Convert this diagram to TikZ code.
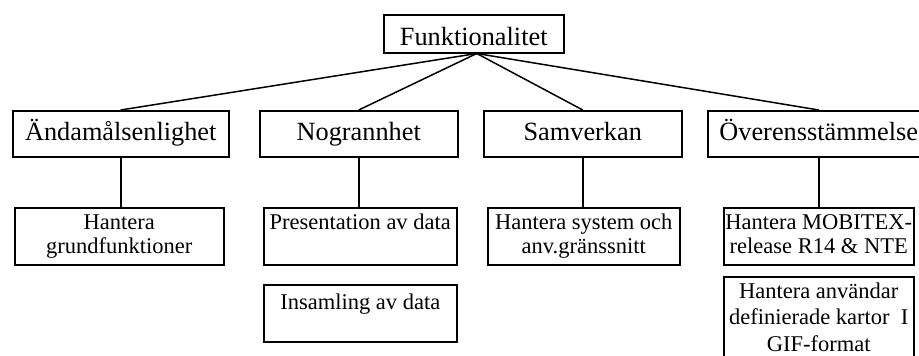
\documentclass[tikz,border=0pt]{standalone}
\usepackage{fontspec}
\setmainfont{Liberation Serif}
% #1 width, #2 height, #3 first baseline below top edge, #4 text
\newcommand\boxlines[4]{\parbox[t][#2][t]{#1}{\centering\rule{0pt}{#3}#4}}
\tikzset{
  box/.style={draw, line width=1.5pt, inner sep=0pt, anchor=north west},
  link/.style={line width=1.5pt},
  headfont/.style={font=\fontsize{26.3}{28}\selectfont},
  leaffont/.style={font=\fontsize{22.5}{24}\selectfont},
  tallfont/.style={font=\fontsize{22.5}{26.5}\selectfont},
}
\begin{document}
\begin{tikzpicture}[x=1pt, y=-1pt]
\useasboundingbox (0,0) rectangle (919,356);
\clip (0,0) rectangle (919,356);

% root
\node[box, headfont] (root) at (383,14) {\boxlines{180pt}{38pt}{30.5pt}{Funktionalitet}};

% quality characteristics
\node[box, headfont] (and) at (12,110)  {\boxlines{216pt}{46pt}{30pt}{Ändamålsenlighet}};
\node[box, headfont] (nog) at (259,110) {\boxlines{198pt}{46pt}{30pt}{Nogrannhet}};
\node[box, headfont] (sam) at (483,110) {\boxlines{198pt}{46pt}{30pt}{Samverkan}};
\node[box, headfont] (ove) at (707,110) {\boxlines{222pt}{46pt}{30pt}{Överensstämmelse}};

% requirements
\node[box, leaffont] (grund) at (14,207)  {\boxlines{209pt}{57pt}{22pt}{Hantera\\grundfunktioner}};
\node[box, leaffont] (pres)  at (263,207) {\boxlines{193pt}{57pt}{22pt}{Presentation av data}};
\node[box, leaffont] (insam) at (263,284) {\boxlines{193pt}{57pt}{25pt}{Insamling av data}};
\node[box, leaffont] (sys)   at (487,207) {\boxlines{192pt}{57pt}{22pt}{Hantera system och\\anv.gränssnitt}};
\node[box, leaffont] (mobi)  at (723,207) {\boxlines{190pt}{57pt}{22pt}{Hantera MOBITEX-\\release R14 \& NTE}};
\node[box, tallfont] (gif)   at (723,276) {\boxlines{190pt}{96pt}{21.5pt}{Hantera användar\\definierade kartor\ \ I\\GIF-format}};

% connectors
\coordinate (hub) at ([xshift=3pt]root.south);
\foreach \n in {and, nog, sam, ove}
  \draw[link] (hub) -- (\n.north);
\draw[link] (and.south) -- (and.south |- grund.north);
\draw[link] (nog.south) -- (nog.south |- pres.north);
\draw[link] (sam.south) -- (sam.south |- sys.north);
\draw[link] (ove.south) -- (ove.south |- mobi.north);
\end{tikzpicture}
\end{document}
